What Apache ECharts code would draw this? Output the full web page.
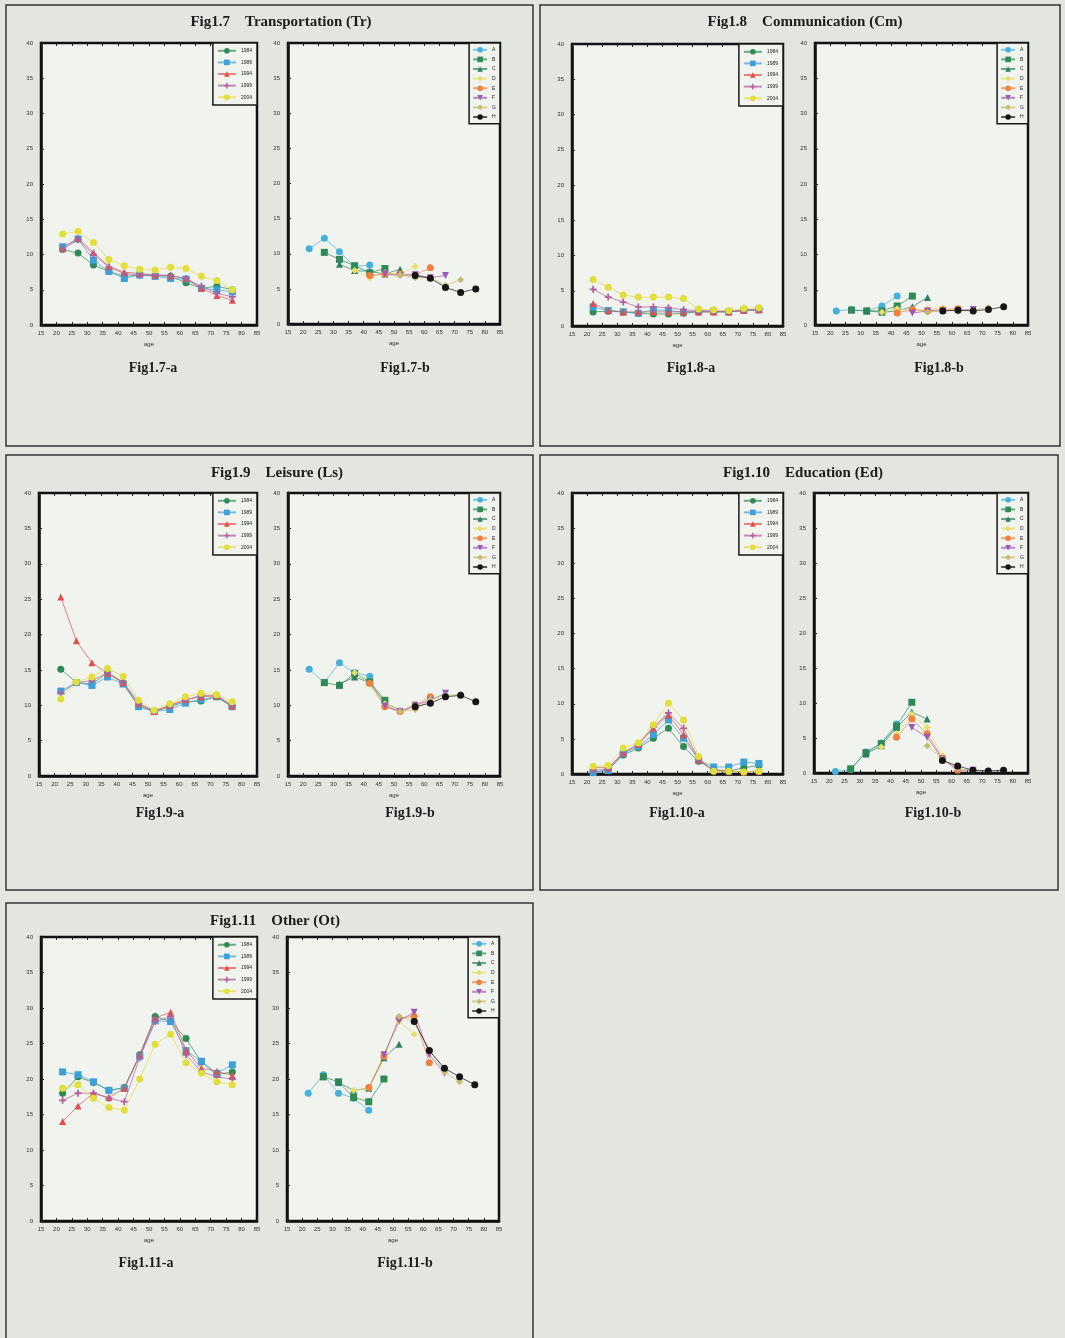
<!DOCTYPE html>
<html>
<head>
<meta charset="utf-8">
<title>Fig1.7 - Fig1.11</title>
<script src="https://cdn.jsdelivr.net/npm/echarts@6/dist/echarts.min.js"></script>
<style>
body { margin: 0; background: #e3e5e0; }
#main { width: 1065px; height: 1338px; }
</style>
</head>
<body>
<div id="main"></div>
<script>
// age group midpoints
var ages = [22, 27, 32, 37, 42, 47, 52, 57, 62, 67, 72, 77];
var years = ['1984', '1989', '1994', '1999', '2004'];
var cohorts = ['A', 'B', 'C', 'D', 'E', 'F', 'G', 'H'];

// Transportation (Tr)
var tr1984 = [10.7, 10.2, 8.5, 7.6, 6.9, 7.1, 7.0, 6.9, 6.0, 5.2, 5.5, 5.0];
var tr1989 = [11.1, 12.2, 9.2, 7.6, 6.6, 7.1, 6.9, 6.6, 6.5, 5.2, 5.0, 4.7];
var tr1994 = [10.9, 12.3, 10.3, 8.3, 7.5, 7.3, 7.1, 7.0, 6.6, 5.2, 4.2, 3.5];
var tr1999 = [10.7, 12.1, 10.0, 8.2, 7.3, 7.1, 7.1, 7.0, 6.6, 5.5, 4.5, 4.0];
var tr2004 = [12.9, 13.3, 11.7, 9.3, 8.4, 7.9, 7.8, 8.2, 8.0, 6.9, 6.3, 5.0];
// Communication (Cm)
var cm1984 = [2.0, 2.1, 2.0, 1.8, 1.7, 1.7, 1.8, 2.0, 2.0, 2.0, 2.2, 2.3];
var cm1989 = [2.7, 2.2, 2.0, 1.8, 2.3, 2.2, 2.0, 2.1, 2.1, 2.0, 2.2, 2.3];
var cm1994 = [3.2, 2.2, 2.0, 2.0, 2.0, 2.0, 2.0, 2.0, 2.0, 2.0, 2.2, 2.3];
var cm1999 = [5.2, 4.1, 3.4, 2.7, 2.7, 2.6, 2.3, 2.2, 2.1, 2.1, 2.2, 2.4];
var cm2004 = [6.6, 5.5, 4.4, 4.1, 4.1, 4.1, 3.9, 2.4, 2.3, 2.2, 2.5, 2.6];
// Leisure (Ls)
var ls1984 = [15.1, 13.2, 13.0, 14.6, 13.1, 9.9, 9.1, 9.8, 10.5, 10.6, 11.2, 9.8];
var ls1989 = [12.0, 13.2, 12.8, 14.0, 13.0, 9.8, 9.1, 9.4, 10.3, 10.8, 11.2, 9.8];
var ls1994 = [25.3, 19.1, 16.0, 14.5, 13.2, 10.2, 9.1, 10.0, 10.8, 11.2, 11.3, 9.9];
var ls1999 = [11.7, 13.2, 13.5, 14.6, 13.3, 10.3, 9.2, 9.9, 10.7, 11.4, 11.4, 10.0];
var ls2004 = [10.9, 13.3, 14.0, 15.2, 14.1, 10.7, 9.3, 10.2, 11.2, 11.7, 11.5, 10.5];
// Education (Ed)
var ed1984 = [0.2, 0.6, 2.7, 3.7, 5.1, 6.5, 3.9, 1.8, 0.6, 0.4, 0.9, 1.2];
var ed1989 = [0.2, 0.5, 2.9, 3.9, 5.6, 7.7, 5.1, 2.0, 1.0, 1.0, 1.7, 1.5];
var ed1994 = [0.9, 0.9, 3.0, 4.2, 6.5, 8.4, 5.6, 2.0, 0.6, 0.4, 0.3, 0.4];
var ed1999 = [0.5, 0.7, 3.0, 4.3, 6.7, 8.7, 6.5, 2.1, 0.4, 0.4, 0.3, 0.4];
var ed2004 = [1.1, 1.2, 3.7, 4.4, 7.0, 10.1, 7.7, 2.5, 0.4, 0.4, 0.3, 0.4];
// Other (Ot)
var ot1984 = [18.0, 20.3, 19.5, 18.4, 18.8, 23.4, 28.8, 28.1, 25.7, 22.4, 20.6, 21.0];
var ot1989 = [21.0, 20.6, 19.6, 18.4, 18.7, 23.2, 28.2, 28.1, 24.0, 22.5, 20.8, 22.0];
var ot1994 = [14.0, 16.2, 18.0, 17.4, 18.7, 23.4, 28.6, 29.4, 24.1, 21.5, 21.1, 20.5];
var ot1999 = [17.0, 18.0, 18.0, 17.3, 16.8, 23.0, 28.1, 28.8, 23.4, 21.0, 20.3, 20.0];
var ot2004 = [18.7, 19.2, 17.3, 16.0, 15.6, 20.0, 24.9, 26.3, 22.3, 20.8, 19.6, 19.2];

var plusPath = 'path://M3,0H5V3H8V5H5V8H3V5H0V3H3Z';
var yearColor = ['#2e8b57', '#3ea0d8', '#e0504a', '#b0609a', '#e2de3a'];
var yearSymbol = ['circle', 'rect', 'triangle', plusPath, 'circle'];
var cohColor = ['#46b0dc', '#2e8b57', '#2f7f5f', '#e6df6a', '#f08040', '#9b59b6', '#c4bc72', '#151515'];
var cohSymbol = ['circle', 'rect', 'triangle', 'diamond', 'circle', 'triangle', 'diamond', 'circle'];
var cohRotate = [0, 0, 0, 0, 0, 180, 0, 0];

// panels: box, title, sub labels, grids [left, top, width, height]
var panels = [
  { box: [6, 5, 527, 441], title: 'Fig1.7    Transportation (Tr)', tx: 276, ty: 10,
    sub: ['Fig1.7-a', 'Fig1.7-b'], sx: [148, 400], sy: 356,
    g: [[41, 43, 216, 282], [288, 43, 212, 281]], d: [tr1984, tr1989, tr1994, tr1999, tr2004] },
  { box: [540, 5, 520, 441], title: 'Fig1.8    Communication (Cm)', tx: 800, ty: 10,
    sub: ['Fig1.8-a', 'Fig1.8-b'], sx: [686, 934], sy: 356,
    g: [[572, 44, 211, 282], [815, 43, 213, 282]], d: [cm1984, cm1989, cm1994, cm1999, cm2004] },
  { box: [6, 455, 527, 435], title: 'Fig1.9    Leisure (Ls)', tx: 272, ty: 461,
    sub: ['Fig1.9-a', 'Fig1.9-b'], sx: [155, 405], sy: 801,
    g: [[39, 493, 218, 283], [288, 493, 212, 283]], d: [ls1984, ls1989, ls1994, ls1999, ls2004] },
  { box: [540, 455, 518, 435], title: 'Fig1.10    Education (Ed)', tx: 798, ty: 461,
    sub: ['Fig1.10-a', 'Fig1.10-b'], sx: [672, 928], sy: 801,
    g: [[572, 493, 211, 281], [814, 493, 214, 280]], d: [ed1984, ed1989, ed1994, ed1999, ed2004] },
  { box: [6, 903, 527, 440], title: 'Fig1.11    Other (Ot)', tx: 270, ty: 909,
    sub: ['Fig1.11-a', 'Fig1.11-b'], sx: [141, 400], sy: 1251,
    g: [[41, 937, 216, 284], [287, 937, 212, 284]], d: [ot1984, ot1989, ot1994, ot1999, ot2004] }
];

var titleFont = { fontFamily: 'Liberation Serif', fontWeight: 'bold', color: '#1c1c1c' };
var option = {
  backgroundColor: '#e3e5e0',
  animation: false,
  title: [], grid: [], xAxis: [], yAxis: [], legend: [], series: [], graphic: []
};

function addGrid(r) {
  var gi = option.grid.length;
  option.grid.push({ left: r[0], top: r[1], width: r[2], height: r[3], show: true,
    backgroundColor: '#f1f3ef', borderColor: '#111', borderWidth: 2.5 });
  option.xAxis.push({ type: 'value', gridIndex: gi, min: 15, max: 85, interval: 5,
    name: 'age', nameLocation: 'middle', nameGap: 16, nameTextStyle: { fontSize: 6, color: '#333' },
    axisLine: { show: true, lineStyle: { color: '#111', width: 2.5 } },
    axisTick: { inside: true, length: 3, lineStyle: { color: '#222' } },
    axisLabel: { fontSize: 6, color: '#333', margin: 5 }, splitLine: { show: false } });
  option.xAxis.push({ type: 'value', gridIndex: gi, min: 15, max: 85, interval: 5, position: 'top',
    axisLine: { show: false }, axisTick: { inside: true, length: 3, lineStyle: { color: '#222' } },
    axisLabel: { show: false }, splitLine: { show: false } });
  option.yAxis.push({ type: 'value', gridIndex: gi, min: 0, max: 40, interval: 5,
    axisLine: { show: true, lineStyle: { color: '#111', width: 2.5 } },
    axisTick: { inside: true, length: 3, lineStyle: { color: '#222' } },
    axisLabel: { fontSize: 6, color: '#333', margin: 8 }, splitLine: { show: false } });
  return gi;
}

function lineSeries(name, gi, pts, color, symbol, rot) {
  return { type: 'line', name: name, xAxisIndex: gi * 2, yAxisIndex: gi, data: pts,
    symbol: symbol, symbolSize: 7, symbolRotate: rot || 0,
    itemStyle: { color: color },
    lineStyle: { color: color, width: 1, opacity: 0.7 } };
}

panels.forEach(function (p) {
  option.graphic.push({ type: 'rect', shape: { x: p.box[0], y: p.box[1], width: p.box[2], height: p.box[3] },
    style: { fill: null, stroke: '#333', lineWidth: 1.5 }, z: 100 });
  option.title.push({ text: p.title, left: p.tx, top: p.ty, textAlign: 'center',
    textStyle: Object.assign({ fontSize: 15 }, titleFont) });
  for (var s = 0; s < 2; s++) {
    option.title.push({ text: p.sub[s], left: p.sx[s], top: p.sy, textAlign: 'center',
      textStyle: Object.assign({ fontSize: 14 }, titleFont) });
  }

  // a: by survey year
  var ga = addGrid(p.g[0]);
  years.forEach(function (y, j) {
    var pts = ages.map(function (a, i) { return [a, p.d[j][i]]; });
    option.series.push(lineSeries(y, ga, pts, yearColor[j], yearSymbol[j]));
  });
  option.legend.push({ data: years, orient: 'vertical', right: 1065 - (p.g[0][0] + p.g[0][2]), top: p.g[0][1],
    itemWidth: 18, itemHeight: 7, itemGap: 6, padding: [5, 5, 5, 4],
    borderColor: '#1a1a1a', borderWidth: 1.5, backgroundColor: '#f1f3ef',
    textStyle: { fontSize: 5, color: '#222' } });

  // b: by cohort (cohort k observed in survey j at age group k + j)
  var gb = addGrid(p.g[1]);
  cohorts.forEach(function (c, k) {
    var pts = [];
    for (var j = 0; j < years.length; j++) pts.push([ages[k + j], p.d[j][k + j]]);
    option.series.push(lineSeries(c, gb, pts, cohColor[k], cohSymbol[k], cohRotate[k]));
  });
  option.legend.push({ data: cohorts, orient: 'vertical', right: 1065 - (p.g[1][0] + p.g[1][2]), top: p.g[1][1],
    itemWidth: 14, itemHeight: 7, itemGap: 4, padding: [4, 4, 4, 3],
    borderColor: '#1a1a1a', borderWidth: 1.5, backgroundColor: '#f1f3ef',
    textStyle: { fontSize: 5, color: '#222' } });
});

var myChart = echarts.init(document.getElementById('main'));
myChart.setOption(option);
</script>
</body>
</html>
